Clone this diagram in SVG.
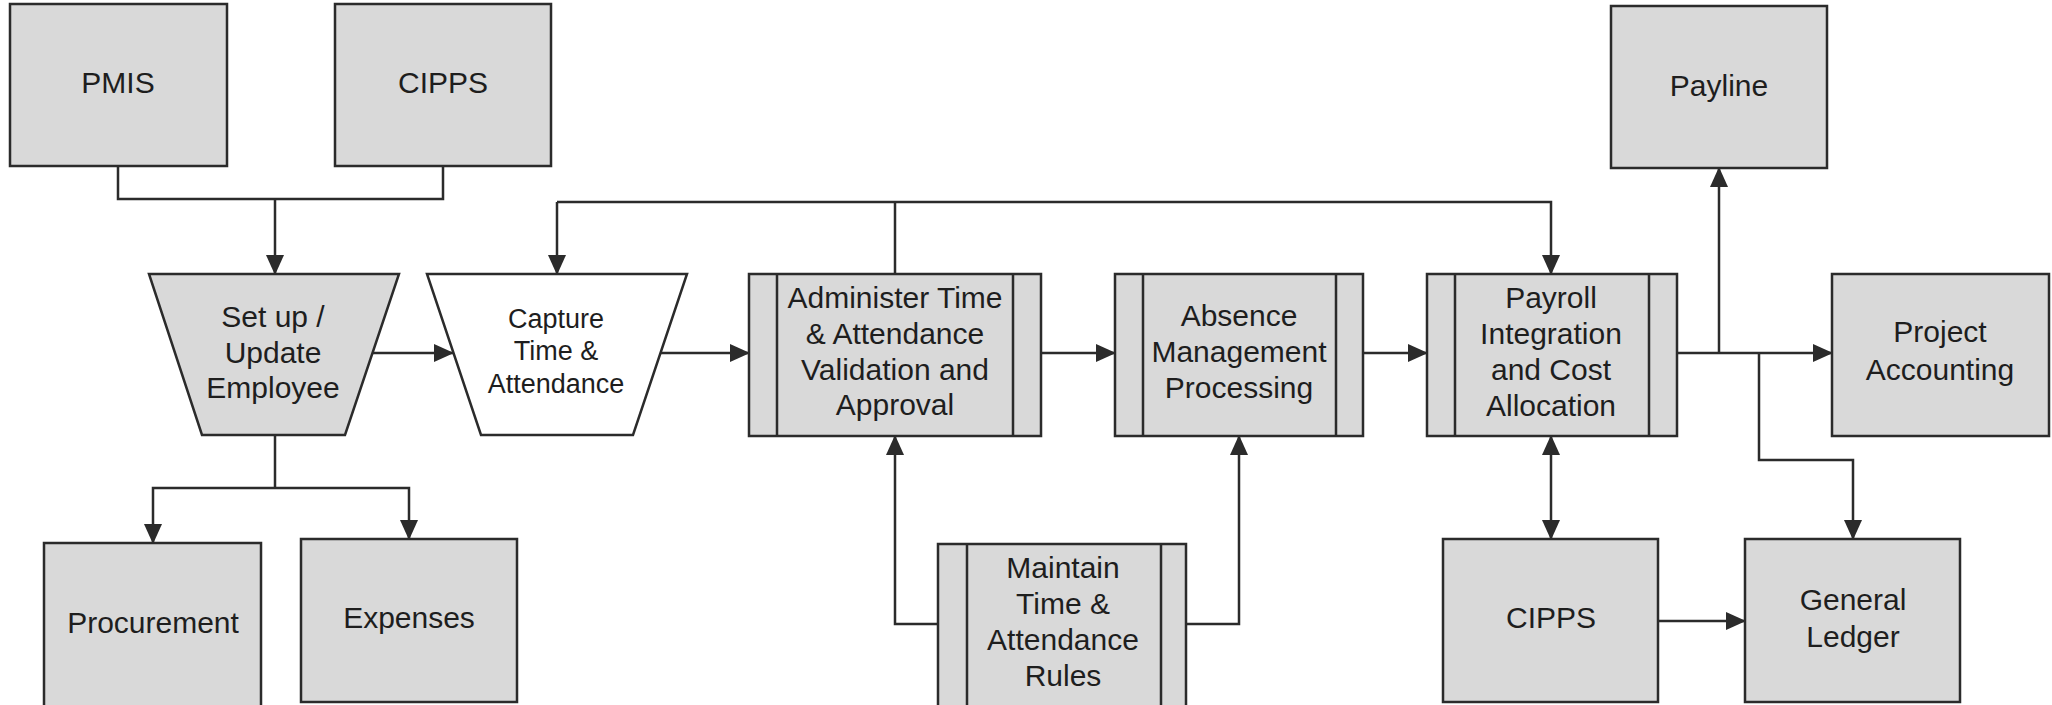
<svg xmlns="http://www.w3.org/2000/svg" width="2052" height="705" viewBox="0 0 2052 705">
<defs>
<style>
.box{fill:#d9d9d9;stroke:#2b2b2b;stroke-width:2.5}
.wbox{fill:#ffffff;stroke:#2b2b2b;stroke-width:2.5}
.bar{fill:none;stroke:#2b2b2b;stroke-width:2.5}
.t{font-family:"Liberation Sans",Arial,sans-serif;font-size:30px;fill:#1e1e1e;text-anchor:middle}
.ts{font-family:"Liberation Sans",Arial,sans-serif;font-size:27px;fill:#1e1e1e;text-anchor:middle}
.c{fill:none;stroke:#2b2b2b;stroke-width:2.5}
.a{marker-end:url(#ah)}
</style>
<marker id="ah" viewBox="0 0 20 20" refX="19" refY="10" markerWidth="20" markerHeight="20" markerUnits="userSpaceOnUse" orient="auto">
<path d="M0,1 L20,10 L0,19 Z" fill="#2b2b2b"/>
</marker>
<marker id="ahs" viewBox="0 0 20 20" refX="1" refY="10" markerWidth="20" markerHeight="20" markerUnits="userSpaceOnUse" orient="auto">
<path d="M20,1 L0,10 L20,19 Z" fill="#2b2b2b"/>
</marker>
</defs>
<g id="connectors">
<path class="c" d="M118,166 V199 H443 V166"/>
<path class="c a" d="M275,199 V274"/>
<path class="c" d="M275,435 V488"/>
<path class="c a" d="M275,488 H153 V543"/>
<path class="c a" d="M275,488 H409 V539"/>
<path class="c a" d="M372,353 H453"/>
<path class="c a" d="M660,353 H749"/>
<path class="c a" d="M1041,353 H1115"/>
<path class="c a" d="M1363,353 H1427"/>
<path class="c" d="M895,274 V202"/>
<path class="c a" d="M557,202 V274"/>
<path class="c a" d="M557,202 H1551 V274"/>
<path class="c a" d="M938,624 H895 V436"/>
<path class="c a" d="M1186,624 H1239 V436"/>
<path class="c a" d="M1677,353 H1832"/>
<path class="c a" d="M1719,353 V168"/>
<path class="c a" d="M1759,353 V460 H1853 V539"/>
<path class="c a" d="M1551,436 V539" marker-start="url(#ahs)"/>
<path class="c a" d="M1658,621 H1745"/>
</g>
<g id="pmis">
<rect class="box" x="10" y="4" width="217" height="162"/>
<text class="t" x="118" y="93">PMIS</text>
</g>
<g id="cipps-top">
<rect class="box" x="335" y="4" width="216" height="162"/>
<text class="t" x="443" y="93">CIPPS</text>
</g>
<g id="setup">
<polygon class="box" points="149,274 399,274 345,435 202,435"/>
<text class="t" x="273" y="327">Set up /</text>
<text class="t" x="273" y="363">Update</text>
<text class="t" x="273" y="398">Employee</text>
</g>
<g id="capture">
<polygon class="wbox" points="427,274 687,274 633,435 481,435"/>
<text class="ts" x="556" y="328">Capture</text>
<text class="ts" x="556" y="360">Time &amp;</text>
<text class="ts" x="556" y="393">Attendance</text>
</g>
<g id="administer">
<rect class="box" x="749" y="274" width="292" height="162"/>
<path class="bar" d="M777,274 V436 M1013,274 V436"/>
<text class="t" x="895" y="308">Administer Time</text>
<text class="t" x="895" y="344">&amp; Attendance</text>
<text class="t" x="895" y="380">Validation and</text>
<text class="t" x="895" y="415">Approval</text>
</g>
<g id="absence">
<rect class="box" x="1115" y="274" width="248" height="162"/>
<path class="bar" d="M1143,274 V436 M1336,274 V436"/>
<text class="t" x="1239" y="326">Absence</text>
<text class="t" x="1239" y="362">Management</text>
<text class="t" x="1239" y="398">Processing</text>
</g>
<g id="payroll">
<rect class="box" x="1427" y="274" width="250" height="162"/>
<path class="bar" d="M1455,274 V436 M1649,274 V436"/>
<text class="t" x="1551" y="308">Payroll</text>
<text class="t" x="1551" y="344">Integration</text>
<text class="t" x="1551" y="380">and Cost</text>
<text class="t" x="1551" y="416">Allocation</text>
</g>
<g id="payline">
<rect class="box" x="1611" y="6" width="216" height="162"/>
<text class="t" x="1719" y="96">Payline</text>
</g>
<g id="project-accounting">
<rect class="box" x="1832" y="274" width="217" height="162"/>
<text class="t" x="1940" y="342">Project</text>
<text class="t" x="1940" y="380">Accounting</text>
</g>
<g id="procurement">
<rect class="box" x="44" y="543" width="217" height="165"/>
<text class="t" x="153" y="633">Procurement</text>
</g>
<g id="expenses">
<rect class="box" x="301" y="539" width="216" height="163"/>
<text class="t" x="409" y="628">Expenses</text>
</g>
<g id="maintain">
<rect class="box" x="938" y="544" width="248" height="166"/>
<path class="bar" d="M967,544 V710 M1161,544 V710"/>
<text class="t" x="1063" y="578">Maintain</text>
<text class="t" x="1063" y="614">Time &amp;</text>
<text class="t" x="1063" y="650">Attendance</text>
<text class="t" x="1063" y="686">Rules</text>
</g>
<g id="cipps-bottom">
<rect class="box" x="1443" y="539" width="215" height="163"/>
<text class="t" x="1551" y="628">CIPPS</text>
</g>
<g id="general-ledger">
<rect class="box" x="1745" y="539" width="215" height="163"/>
<text class="t" x="1853" y="610">General</text>
<text class="t" x="1853" y="647">Ledger</text>
</g>
</svg>
